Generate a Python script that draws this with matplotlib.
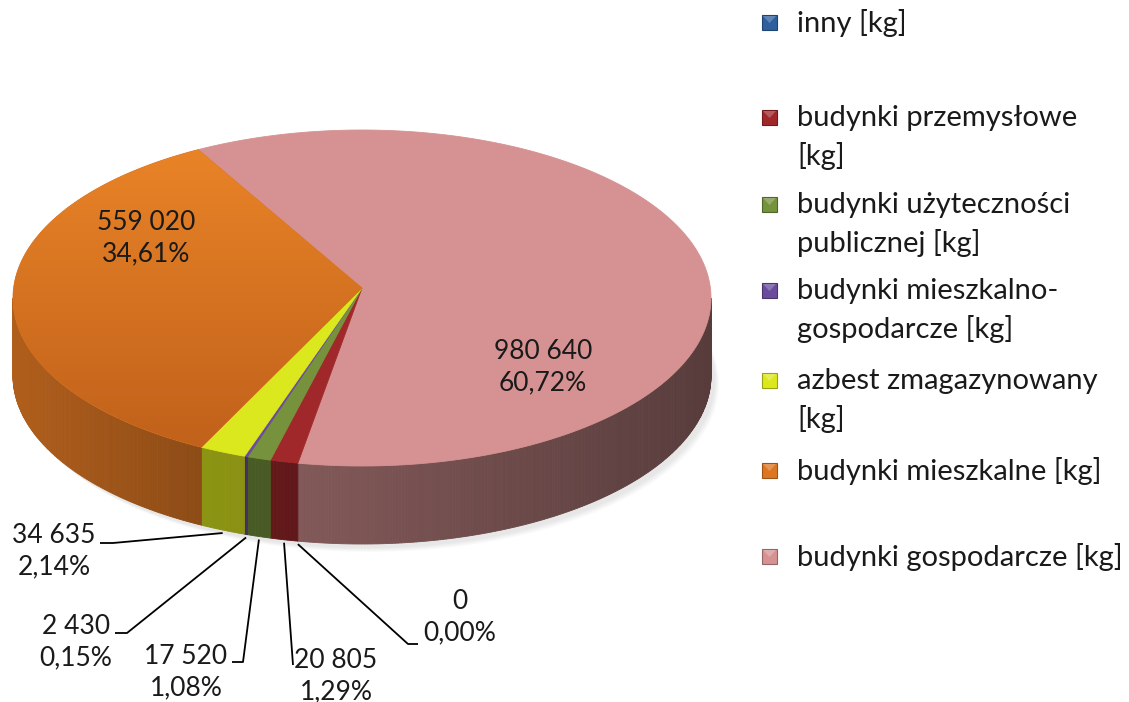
import numpy as np
import matplotlib
matplotlib.use('Agg')
import matplotlib.pyplot as plt
from matplotlib.patches import Polygon, Rectangle
from matplotlib.colors import to_rgb

plt.rcParams['font.family'] = ['Lato', 'DejaVu Sans']

# data (Excel order, clockwise from the back-left split)
names = ['budynki gospodarcze [kg]', 'inny [kg]', 'budynki przemysłowe [kg]',
         'budynki użyteczności publicznej [kg]', 'budynki mieszkalno-gospodarcze [kg]',
         'azbest zmagazynowany [kg]', 'budynki mieszkalne [kg]']
values = [980640, 0, 20805, 17520, 2430, 34635, 559020]
colors = ['#d69292', '#2e5f9e', '#a0282a', '#76923c', '#6a4c9c', '#dce81e', '#dd7622']

legend_order = [1, 2, 3, 4, 5, 6, 0]
legend_text = ['inny [kg]', 'budynki przemysłowe\n[kg]', 'budynki użyteczności\npublicznej [kg]',
               'budynki mieszkalno-\ngospodarcze [kg]', 'azbest zmagazynowany\n[kg]',
               'budynki mieszkalne [kg]', 'budynki gospodarcze [kg]']
legend_y = [22, 117, 204, 290, 380, 470, 556]

# pie geometry in pixel units
cx, cy = 362, 298
apx, apy = 362, 288
rx, ry = 349, 168
depth = 78
start = 118.0

fig = plt.figure(figsize=(11.29, 7.02), dpi=100)
ax = fig.add_axes([0, 0, 1, 1])
ax.set_xlim(0, 1129)
ax.set_ylim(702, 0)
ax.axis('off')

vals = np.array(values, dtype=float)
total = vals.sum()
spans = vals / total * 360.0
a_start = start - np.concatenate([[0], np.cumsum(spans)[:-1]])
a_end = a_start - spans


def rim(th, dy=0.0):
    t = np.radians(th)
    return cx + rx * np.cos(t), cy - ry * np.sin(t) + dy


def shade(x):
    return np.interp(x, [13, 200, 320, 712], [0.80, 0.64, 0.60, 0.41])


# soft shadow
for k in range(8):
    th = np.linspace(0, 360, 200)
    xs, ys = rim(th, depth + 4)
    ax.fill(xs + 4 + k * 0.6, ys + k * 0.6, color='k', alpha=0.012, lw=0)

# side walls
for i in range(len(vals)):
    if spans[i] <= 0:
        continue
    a1, a2 = a_start[i], a_end[i]
    grid = list(np.linspace(a2, a1, max(3, int(spans[i] * 2))))
    for b in np.arange(-720, 361, 180):
        if a2 < b < a1:
            grid.append(b)
    grid = np.sort(grid)
    base = np.array(to_rgb(colors[i]))
    for t0, t1 in zip(grid[:-1], grid[1:]):
        tm = 0.5 * (t0 + t1)
        if np.sin(np.radians(tm)) >= 0:
            continue
        x0, y0 = rim(t0)
        x1, y1 = rim(t1)
        c = np.clip(base * shade(0.5 * (x0 + x1)), 0, 1)
        ax.add_patch(Polygon([[x0, y0], [x1, y1], [x1, y1 + depth], [x0, y0 + depth]],
                             closed=True, facecolor=c, edgecolor=c, lw=0.6))

# top faces
grad = np.linspace(0, 1, 256).reshape(-1, 1)
for i in range(len(vals)):
    if spans[i] <= 0:
        continue
    th = np.linspace(a_start[i], a_end[i], max(3, int(spans[i] * 2)))
    xs, ys = rim(th)
    pts = np.column_stack([np.r_[apx, xs], np.r_[apy, ys]])
    poly = Polygon(pts, closed=True, facecolor=colors[i], edgecolor=colors[i], lw=0.6)
    ax.add_patch(poly)
    if names[i] == 'budynki mieszkalne [kg]':
        c_top = np.array(to_rgb('#ec8628'))
        c_bot = np.array(to_rgb('#be5f1a'))
        img = c_top[None, None, :] * (1 - grad[:, :, None]) + c_bot[None, None, :] * grad[:, :, None]
        im = ax.imshow(img, extent=[0, 400, 470, 125], aspect='auto', zorder=2)
        im.set_clip_path(poly)


def fmt(v):
    return '{:,}'.format(int(v)).replace(',', ' ')


def pct(v):
    return '{:.2f}%'.format(v / total * 100).replace('.', ',')


fs = 19
# inside labels
inside = {0: (543, 367), 6: (146, 238)}
for i, (tx, ty) in inside.items():
    ax.text(tx, ty, fmt(vals[i]) + '\n' + pct(vals[i]), ha='center', va='center',
            fontsize=fs, color='#1a1a1a', linespacing=1.3)

# outside labels: (text x, text y, elbow x, elbow y, line end x)
outside = {
    5: (54, 551, 113, 543, 100),
    4: (76, 642, 127, 633, 115),
    3: (186, 672, 243, 662, 232),
    2: (336, 676, 293, 665, 293),
    1: (460, 617, 408, 644, 418),
}
for i, (tx, ty, ex, ey, lx) in outside.items():
    mid = 0.5 * (a_start[i] + a_end[i])
    px, py = rim(mid, depth + 3)
    ax.plot([px, ex, lx], [py, ey, ey], color='k', lw=1.3, solid_capstyle='butt')
    ax.text(tx, ty, fmt(vals[i]) + '\n' + pct(vals[i]), ha='center', va='center',
            fontsize=fs, color='#1a1a1a', linespacing=1.3)

# legend
for k, i in enumerate(legend_order):
    y = legend_y[k]
    c = np.array(to_rgb(colors[i]))
    ax.add_patch(Rectangle((762, y - 7), 15, 15, facecolor=c,
                           edgecolor=np.clip(c * 0.7, 0, 1), lw=0.8))
    ax.add_patch(Polygon([[763, y - 6], [776, y - 6], [769.5, y + 1]], closed=True,
                         facecolor=np.clip(c * 0.6 + 0.4, 0, 1), lw=0, alpha=0.6))
    ax.text(797, y + 1, legend_text[k].split('\n')[0], ha='left', va='center',
            fontsize=21, color='#1a1a1a')
    if '\n' in legend_text[k]:
        ax.text(797, y + 39, legend_text[k].split('\n')[1], ha='left', va='center',
                fontsize=21, color='#1a1a1a')

fig.savefig('out.png', dpi=100, facecolor='white')
